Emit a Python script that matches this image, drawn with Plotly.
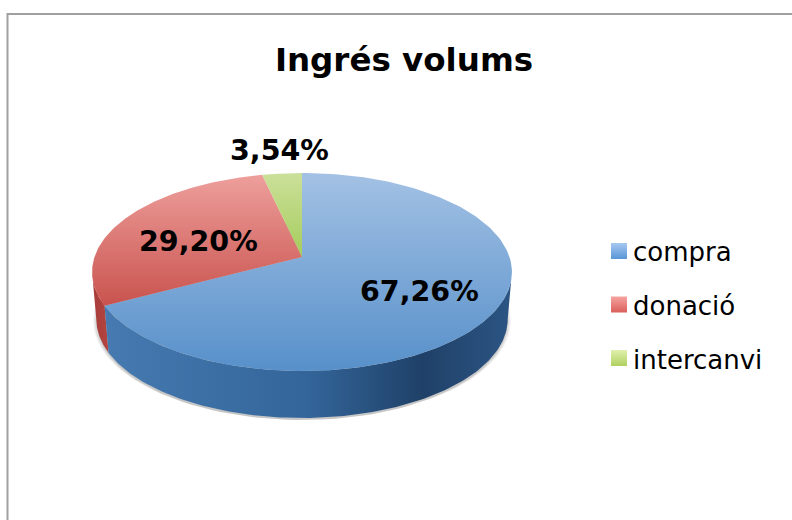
import numpy as np
import plotly.graph_objects as go

title = "Ingrés volums"
categories = ["compra", "donació", "intercanvi"]
values = [67.26, 29.20, 3.54]
labels = ["67,26%", "29,20%", "3,54%"]

TOP_COLORS = [("#a3c1e4", "#5790ca"), ("#ee9f9c", "#c9534e"), ("#cbe09a", "#a5cc5c")]
SWATCHES = [("#a6c8f2", "#5a95d6"), ("#f7a3a0", "#d95f5b"), ("#e0f0ae", "#b0d060")]
FONT = "DejaVu Sans"

# projection of the tilted disc onto the page
CX, CY = 302.0, 257.0
PERSP, SY, SX = 0.1515, 96.7, 207.5
DEPTH, SHRINK = 47.0, 0.98


def project(theta, scale=1.0, drop=0.0):
    u, v = np.sin(theta), np.cos(theta)
    w = 1 + PERSP * v
    return CX + scale * SX * u / w, CY - SY * v / w + drop


def arc(a, b, scale=1.0, drop=0.0):
    return project(np.linspace(a, b, 160), scale, drop)


def wall(a, b, colorscale):
    xt, yt = arc(a, b)
    xb, yb = arc(b, a, SHRINK, DEPTH)
    return go.Scatter(
        x=np.r_[xt, xb, xt[0]], y=np.r_[yt, yb, yt[0]], mode="lines", line_width=0,
        fill="toself", fillgradient=dict(type="horizontal", colorscale=colorscale),
        showlegend=False, hoverinfo="skip",
    )


edges = 2 * np.pi * np.r_[0, np.cumsum(values)] / sum(values)
right_t = np.arctan2(np.sqrt(1 - PERSP**2), -PERSP)
left_t = 2 * np.pi - right_t

fig = go.Figure()

# soft shadow
for grow, alpha in [(1.015, 0.07), (1.008, 0.10), (1.0, 0.15)]:
    xs, ys = arc(0, 2 * np.pi, SHRINK * grow, DEPTH + 2)
    fig.add_trace(go.Scatter(x=xs, y=ys, mode="lines", line_width=0, fill="toself",
                             fillcolor=f"rgba(60,60,60,{alpha})", showlegend=False, hoverinfo="skip"))

# side walls
fig.add_trace(wall(edges[1], left_t, [[0, "#a53c38"], [1, "#b5443f"]]))
fig.add_trace(wall(right_t, edges[1], [[0, "#467ab0"], [0.5, "#33659a"], [0.78, "#1f4168"], [1, "#2c5584"]]))

# top faces
for i, name in enumerate(categories):
    xs, ys = arc(edges[i], edges[i + 1])
    fig.add_trace(go.Scatter(
        x=np.r_[CX, xs, CX], y=np.r_[CY, ys, CY], mode="lines", line_width=0, fill="toself",
        fillgradient=dict(type="vertical", colorscale=[[0, TOP_COLORS[i][1]], [1, TOP_COLORS[i][0]]]),
        showlegend=False, hoverinfo="skip", name=name,
    ))

# legend entries: native text, gradient swatches drawn beside it
for i, name in enumerate(categories):
    fig.add_trace(go.Scatter(
        x=[None], y=[None], mode="markers", name=name, legendgroup=name,
        marker=dict(symbol="square", size=16, color="rgba(0,0,0,0)"),
    ))
swatch_x = [619, 619, 619]
swatch_y = [251, 304.5, 358]
for i, name in enumerate(categories):
    fig.add_trace(go.Scatter(
        x=[swatch_x[i]], y=[swatch_y[i]], mode="markers", showlegend=False, hoverinfo="skip",
        marker=dict(symbol="square", size=16, color=SWATCHES[i][0], line_width=0,
                    gradient=dict(type="vertical", color=SWATCHES[i][1])),
    ))

annots = [(419, 291), (198, 241), (279, 150)]
for (ax, ay), text in zip(annots, labels):
    fig.add_annotation(x=ax, y=ay, text=f"<b>{text}</b>", showarrow=False,
                       font=dict(family=FONT, size=28.5, color="#000000"))

fig.add_shape(type="rect", x0=7.5, y0=14, x1=810, y1=540, line=dict(color="#a0a0a0", width=2), layer="below")

fig.update_layout(
    width=792, height=520, margin=dict(l=0, r=0, t=0, b=0),
    paper_bgcolor="white", plot_bgcolor="white",
    title=dict(text=f"<b>{title}</b>", x=404 / 792, xanchor="center", y=1 - 60 / 520, yanchor="middle",
               font=dict(family=FONT, size=32.5, color="#000000")),
    xaxis=dict(range=[0, 792], visible=False, fixedrange=True),
    yaxis=dict(range=[520, 0], visible=False, fixedrange=True),
    legend=dict(x=593 / 792, xanchor="left", y=1 - 227 / 520, yanchor="top", itemwidth=30,
                tracegroupgap=17.5, bgcolor="rgba(0,0,0,0)",
                font=dict(family=FONT, size=26, color="#000000")),
)
fig.write_html("out.html", config={"displayModeBar": False},
               post_script="document.body.style.margin='0';")
